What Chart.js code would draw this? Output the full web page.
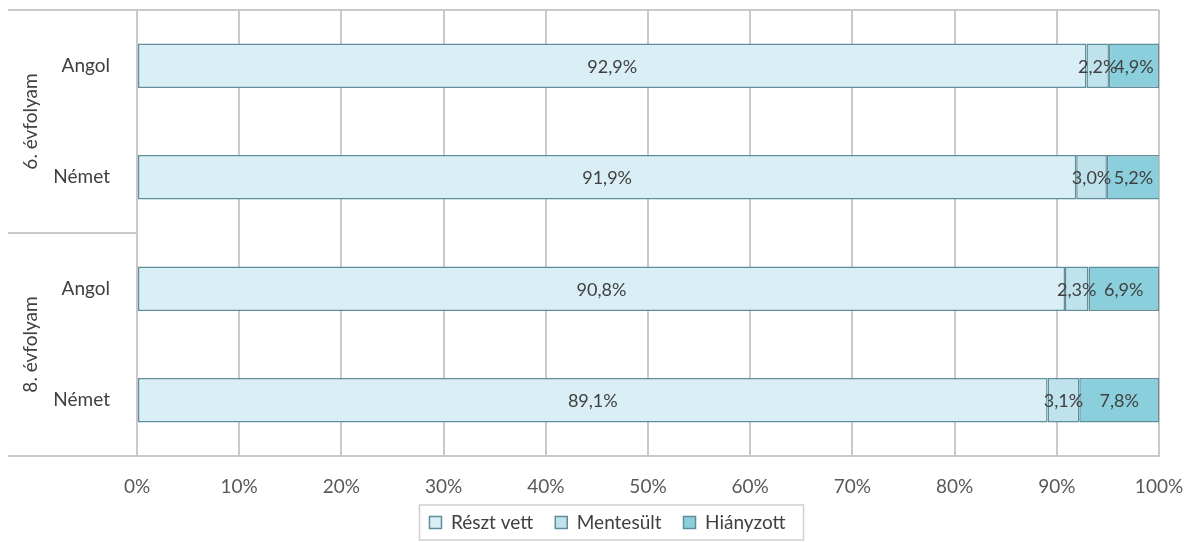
<!DOCTYPE html>
<html>
<head>
<meta charset="utf-8">
<script src="https://cdn.jsdelivr.net/npm/chart.js@4"></script>
<style>
  html, body { margin: 0; padding: 0; background: #fff; }
  #wrap { width: 1193px; height: 542px; }
</style>
</head>
<body>
<div id="wrap"><canvas id="chart"></canvas></div>
<script>
const nyelvek = ["Angol", "Német", "Angol", "Német"];
const evfolyamok = ["6. évfolyam", "8. évfolyam"];
const resztVett = [92.9, 91.9, 90.8, 89.1];
const mentesult = [2.2, 3.0, 2.3, 3.1];
const hianyzott = [4.9, 5.2, 6.9, 7.8];
const xTicks = [0, 10, 20, 30, 40, 50, 60, 70, 80, 90, 100];

const betu = "Lato, 'Open Sans', sans-serif";
const vonal = "#c9c9c9";

const szazalek = v => v.toFixed(1).replace(".", ",") + "%";

// adatcimkek a szakaszok kozepen
const cimkek = {
  id: "cimkek",
  afterDatasetsDraw(chart) {
    const ctx = chart.ctx;
    ctx.save();
    ctx.font = "18px " + betu;
    ctx.fillStyle = "#404040";
    ctx.textAlign = "center";
    ctx.textBaseline = "middle";
    chart.data.datasets.forEach((ds, i) => {
      chart.getDatasetMeta(i).data.forEach((bar, j) => {
        const p = bar.getCenterPoint();
        ctx.fillText(szazalek(ds.data[j]), p.x, p.y + 1);
      });
    });
    ctx.restore();
  }
};

// evfolyam csoportok a bal oldalon + keret vonalak
const csoportok = {
  id: "csoportok",
  afterLayout(chart) {
    // a tengelyfeliratok ne vagodjanak le
    chart.scales.x.bottom += 20;
    // jelmagyarazat kicsit jobbra, mint az eredetin
    const lg = chart.legend;
    lg.left += 28;
    lg.right += 28;
    lg.legendHitBoxes.forEach(b => { b.left += 28; });
  },
  beforeDatasetsDraw(chart) {
    const { ctx, chartArea } = chart;
    const y = chart.scales.y;
    ctx.save();
    ctx.strokeStyle = vonal;
    ctx.lineWidth = 2;
    const fel = (y.getPixelForValue(1) + y.getPixelForValue(2)) / 2;
    [chartArea.top, fel, chartArea.bottom].forEach(py => {
      ctx.beginPath();
      ctx.moveTo(8, py);
      ctx.lineTo(py === fel ? chartArea.left : chartArea.right, py);
      ctx.stroke();
    });
    ctx.font = "19px " + betu;
    ctx.fillStyle = "#404040";
    ctx.textAlign = "center";
    ctx.textBaseline = "middle";
    evfolyamok.forEach((nev, g) => {
      const top = g === 0 ? chartArea.top : fel;
      const bot = g === 0 ? fel : chartArea.bottom;
      ctx.save();
      ctx.translate(31, (top + bot) / 2);
      ctx.rotate(-Math.PI / 2);
      ctx.fillText(nev, 0, 0);
      ctx.restore();
    });
    ctx.restore();
  },
  afterDraw(chart) {
    const boxes = chart.legend.legendHitBoxes;
    if (!boxes || !boxes.length) return;
    const ctx = chart.ctx;
    const left = Math.min(...boxes.map(b => b.left)) - 10;
    const right = Math.max(...boxes.map(b => b.left + b.width)) + 18;
    const top = Math.min(...boxes.map(b => b.top)) - 8;
    const bottom = Math.max(...boxes.map(b => b.top + b.height)) + 8;
    ctx.save();
    ctx.strokeStyle = "#d0d0d0";
    ctx.lineWidth = 1.5;
    ctx.strokeRect(left, top, right - left, bottom - top);
    ctx.restore();
  }
};

new Chart(document.getElementById("chart"), {
  type: "bar",
  data: {
    labels: nyelvek,
    datasets: [
      { label: "Részt vett", data: resztVett, backgroundColor: "#daeef5" },
      { label: "Mentesült", data: mentesult, backgroundColor: "#c0e2ed" },
      { label: "Hiányzott", data: hianyzott, backgroundColor: "#8ccfdc" }
    ].map(ds => ({
      ...ds,
      borderColor: "#5e8e9b",
      borderWidth: 1.5,
      borderSkipped: false,
      categoryPercentage: 1,
      barPercentage: 0.4
    }))
  },
  options: {
    indexAxis: "y",
    responsive: true,
    maintainAspectRatio: false,
    animation: false,
    layout: { padding: { top: 10, right: 34, bottom: 0, left: 0 } },
    plugins: {
      legend: {
        position: "bottom",
        labels: {
          boxWidth: 12,
          boxHeight: 12,
          padding: 22,
          color: "#404040",
          font: { size: 19, family: betu },
          generateLabels(chart) {
            return chart.data.datasets.map((ds, i) => ({
              text: ds.label,
              fillStyle: ds.backgroundColor,
              strokeStyle: "#5e8e9b",
              lineWidth: 1.5,
              datasetIndex: i,
              fontColor: "#404040"
            }));
          }
        }
      },
      tooltip: { enabled: false }
    },
    scales: {
      x: {
        stacked: true,
        min: 0,
        max: 100,
        afterBuildTicks(scale) { scale.ticks = xTicks.map(v => ({ value: v })); },
        afterFit(scale) {
          scale.height = 35;
          scale.paddingLeft = 0;
          scale.paddingRight = 0;
        },
        grid: { color: vonal, lineWidth: 2, drawTicks: false },
        border: { display: true, color: vonal, width: 2 },
        ticks: {
          padding: 19,
          color: "#595959",
          font: { size: 19, family: betu },
          callback: v => v + "%"
        }
      },
      y: {
        stacked: true,
        afterFit(scale) {
          scale.width = 137;
          scale.paddingTop = 0;
          scale.paddingBottom = 0;
        },
        grid: { display: false },
        border: { display: true, color: vonal, width: 2 },
        ticks: {
          padding: 19,
          color: "#404040",
          font: { size: 19, family: betu }
        }
      }
    }
  },
  plugins: [cimkek, csoportok]
});
</script>
</body>
</html>
